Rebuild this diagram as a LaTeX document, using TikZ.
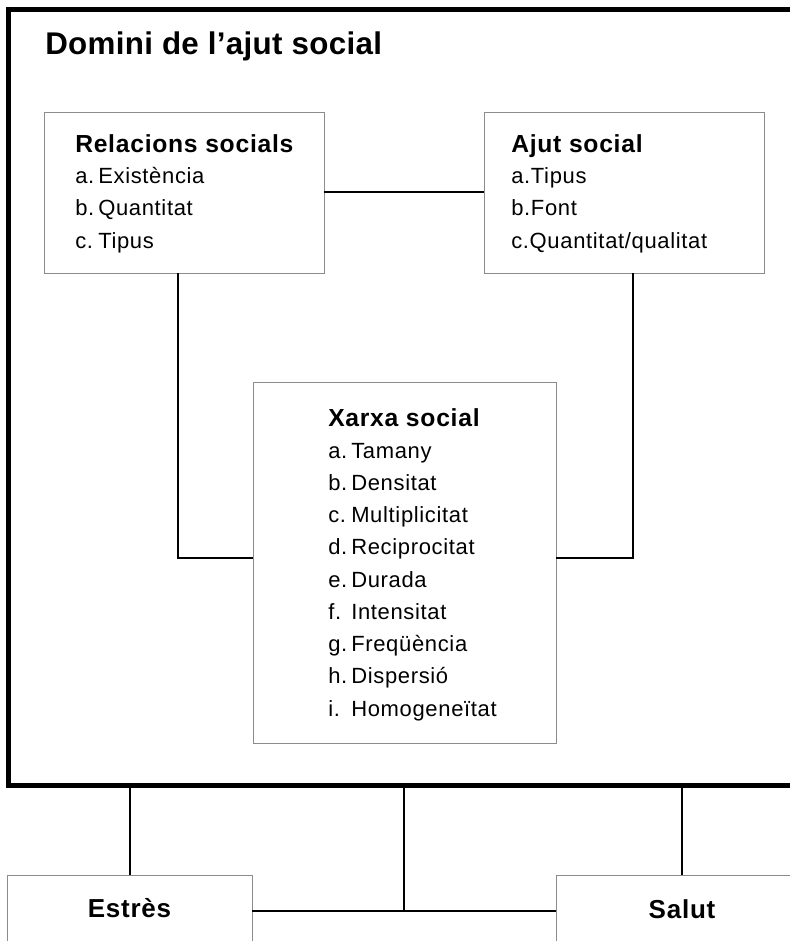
\documentclass[tikz,border=0pt]{standalone}
\usepackage{fontspec}
\setmainfont{Liberation Sans}[LetterSpace=3]
\newfontfamily\headfont{Liberation Sans}[LetterSpace=1]

\newcommand{\lbl}[1]{\makebox[17.25pt][l]{#1}}

\tikzset{
    frame/.style={draw=black, line width=3.75pt, outer sep=0pt, inner sep=0pt},
    box/.style={draw=black!45, line width=0.6pt, fill=white, outer sep=0pt, inner sep=0pt},
    link/.style={draw=black, line width=1.5pt},
    head/.style={font=\headfont\bfseries\fontsize{23.5}{28}\selectfont, anchor=base west, inner sep=0pt},
    title/.style={font=\bfseries\fontsize{18.5}{22}\selectfont, anchor=base west, inner sep=0pt},
    entry/.style={font=\fontsize{16.5}{20}\selectfont, anchor=base west, inner sep=0pt},
    result/.style={font=\bfseries\fontsize{19.5}{24}\selectfont, anchor=base, inner sep=0pt},
}

\begin{document}
\begin{tikzpicture}[x=0.75pt, y=-0.75pt]
    \useasboundingbox[fill=white] (0,0) rectangle (789,941);

    % domain frame and boxes
    \node[frame, minimum width=594pt, minimum height=581.25pt] (domini) at (404,397.5) {};
    \node[head] (domini-t) at (45,55) {Domini de l’ajut social};

    \node[box, minimum width=210pt, minimum height=120.75pt] (rel) at (184,192.5) {};
    \node[box, minimum width=210pt, minimum height=120.75pt] (ajut) at (624,192.5) {};
    \node[box, minimum width=227.25pt, minimum height=270.75pt] (xarxa) at (404.5,562.5) {};
    \node[box, minimum width=183.75pt, minimum height=101.25pt] (estres) at (129.5,942.5) {};
    \node[box, minimum width=189pt, minimum height=101.25pt] (salut) at (682,942.5) {};

    % relacions socials
    \node[title] (rel-t) at (75,153) {Relacions socials};
    \node[entry] (rel-a) at (75,184) {\lbl{a.}Existència};
    \node[entry] (rel-b) at (75,216) {\lbl{b.}Quantitat};
    \node[entry] (rel-c) at (75,248) {\lbl{c.}Tipus};

    % ajut social
    \node[title] (ajut-t) at (511,153) {Ajut social};
    \node[entry] (ajut-a) at (511,184) {a.Tipus};
    \node[entry] (ajut-b) at (511,216) {b.Font};
    \node[entry] (ajut-c) at (511,248) {c.Quantitat/qualitat};

    % xarxa social
    \node[title] (xarxa-t) at (328,426) {Xarxa social};
    \node[entry] (xarxa-a) at (328,458) {\lbl{a.}Tamany};
    \node[entry] (xarxa-b) at (328,490) {\lbl{b.}Densitat};
    \node[entry] (xarxa-c) at (328,522) {\lbl{c.}Multiplicitat};
    \node[entry] (xarxa-d) at (328,554) {\lbl{d.}Reciprocitat};
    \node[entry] (xarxa-e) at (328,587) {\lbl{e.}Durada};
    \node[entry] (xarxa-f) at (328,619) {\lbl{f.}Intensitat};
    \node[entry] (xarxa-g) at (328,651) {\lbl{g.}Freqüència};
    \node[entry] (xarxa-h) at (328,683) {\lbl{h.}Dispersió};
    \node[entry] (xarxa-i) at (328,716) {\lbl{i.}Homogeneïtat};

    % estres i salut
    \node[result] (estres-t) at (129.5,917) {Estrès};
    \node[result] (salut-t) at (682,918) {Salut};

    % connections
    \coordinate (relturn) at (178,558);
    \coordinate (ajutturn) at (633,558);
    \coordinate (join) at (404,911);

    \path[link] (rel.east) -- (ajut.west);
    \path[link] (rel.south -| relturn) |- (xarxa.west |- relturn);
    \path[link] (ajut.south -| ajutturn) |- (xarxa.east |- ajutturn);
    \path[link] (domini.south -| estres.north) -- (estres.north);
    \path[link] (domini.south -| salut.north) -- (salut.north);
    \path[link] (domini.south -| join) -- (join);
    \path[link] (estres.east |- join) -- (salut.west |- join);
\end{tikzpicture}
\end{document}
